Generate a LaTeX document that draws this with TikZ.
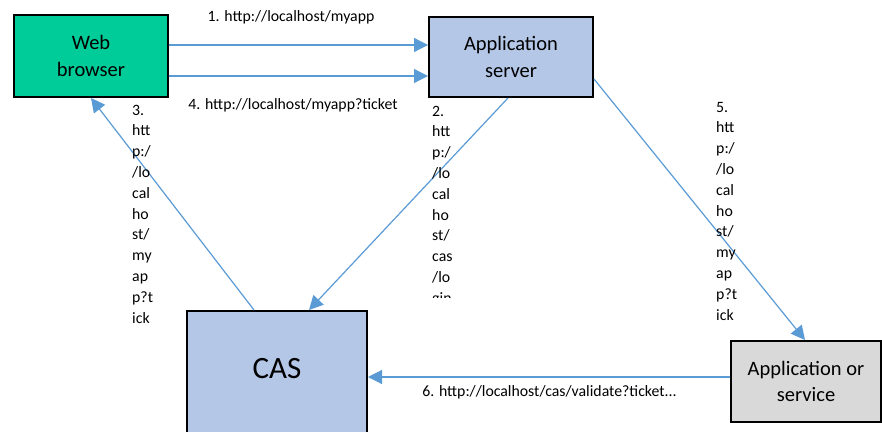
\documentclass[tikz,border=0pt]{standalone}
\usepackage{fontspec}
\setmainfont{Carlito}
\usetikzlibrary{arrows.meta}
\definecolor{webgreen}{HTML}{00CC99}
\definecolor{srvblue}{HTML}{B4C7E7}
\definecolor{svcgray}{HTML}{D9D9D9}
\definecolor{linkblue}{HTML}{5B9BD5}
\tikzset{
  box/.style={draw=black, line width=2pt, align=center, inner sep=0pt,
    font=\fontsize{20.5}{26.5}\selectfont},
  link/.style={draw=linkblue, line width=1.2pt,
    -{Triangle[length=14pt, width=14pt]}},
  urllabel/.style={inner sep=0pt, anchor=base, font=\fontsize{15.8}{20.8}\selectfont},
  colword/.style={inner sep=0pt, anchor=base west, font=\fontsize{15.8}{20.8}\selectfont}
}
\begin{document}
\begin{tikzpicture}[x=1pt, y=-1pt]
\clip (0,0) rectangle (882,431);
\fill[white] (0,0) rectangle (882,431);

% components
\node[box, fill=webgreen, minimum width=154pt, minimum height=82pt] (web) at (91,56) {Web\\browser};
\node[box, fill=srvblue, minimum width=164pt, minimum height=80pt] (app) at (511,57) {Application\\server};
\node[box, fill=srvblue, minimum width=180pt, minimum height=122pt, text depth=8pt,
      font=\fontsize{31}{36}\selectfont] (cas) at (277,372) {CAS};
\node[box, fill=svcgray, minimum width=150pt, minimum height=81pt] (svc) at (806,381.5) {Application or\\service};

% requests
\draw[link] ([yshift=11pt]web.east) -- ([yshift=12pt]app.west);
\draw[link] ([yshift=-20pt]web.east) -- ([yshift=-19pt]app.west);
\draw[link] ([xshift=68pt]cas.north west) -- (web.south);
\draw[link] ([xshift=-3pt]app.south) -- ([xshift=123pt]cas.north west);
\draw[link] ([yshift=-22pt]app.east) -- ([xshift=75pt]svc.north west);
\coordinate (v6) at ([yshift=4.5pt]svc.west);
\draw[link] (v6) -- (v6 -| cas.east);

% request labels
\node[urllabel] (l1) at (291,21) {1. http://localhost/myapp};
\node[urllabel] (l4) at (293,109) {4. http://localhost/myapp?ticket};
\node[urllabel] (l6) at (549.5,396) {6. http://localhost/cas/validate?ticket...};

\foreach \t [count=\i from 0] in {3.,htt,p:/,/lo,cal,ho,st/,my,ap,p?t,ick}
  \node[colword] (c3-\i) at (132,{115+20.8*\i}) {\t};

\begin{scope}
  \clip (420,100) rectangle (480,297);
  \foreach \t [count=\i from 0] in {2.,htt,p:/,/lo,cal,ho,st/,cas,/lo,gin}
    \node[colword] (c2-\i) at (432,{116+20.8*\i}) {\t};
\end{scope}

\foreach \t [count=\i from 0] in {5.,htt,p:/,/lo,cal,ho,st/,my,ap,p?t,ick}
  \node[colword] (c5-\i) at (716,{112+20.8*\i}) {\t};
\end{tikzpicture}
\end{document}
